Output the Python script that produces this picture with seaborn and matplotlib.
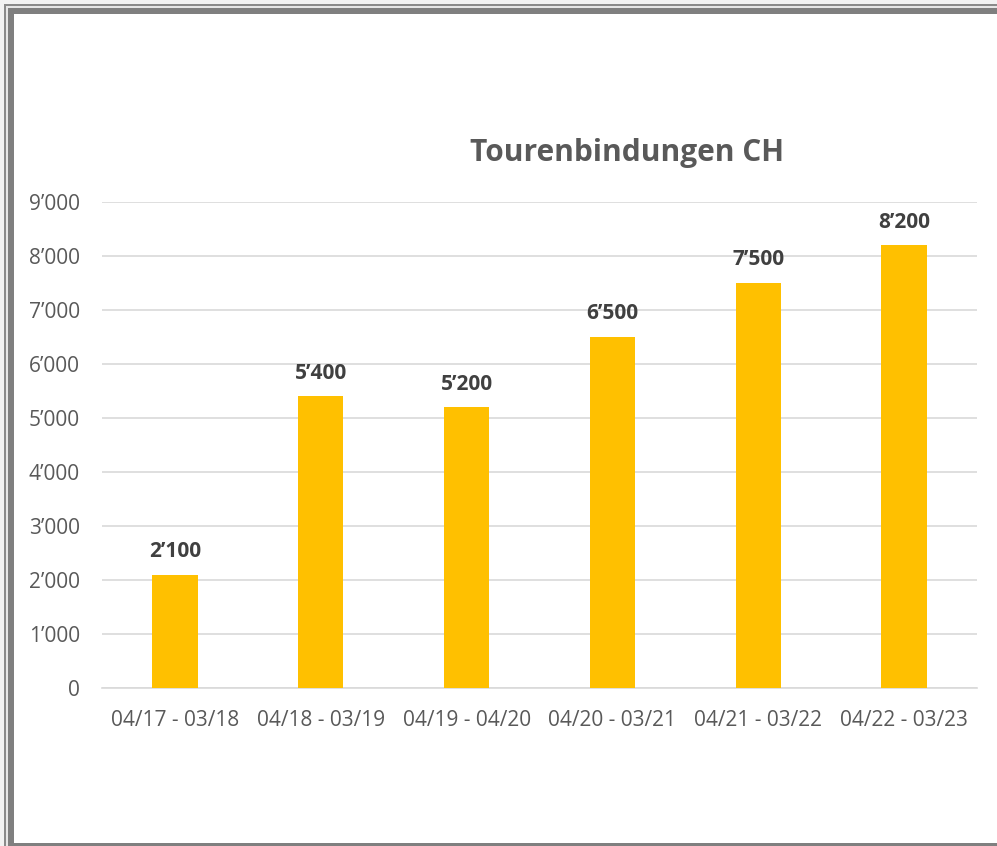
import matplotlib
matplotlib.use("Agg")
import matplotlib.pyplot as plt
import seaborn as sns
import pandas as pd
from matplotlib.patches import Rectangle

periods = ["04/17 - 03/18", "04/18 - 03/19", "04/19 - 04/20", "04/20 - 03/21", "04/21 - 03/22", "04/22 - 03/23"]
values = [2100, 5400, 5200, 6500, 7500, 8200]
yticks = [0, 1000, 2000, 3000, 4000, 5000, 6000, 7000, 8000, 9000]
title = "Tourenbindungen CH"

def fmt(v):
    return f"{v:,}".replace(",", "\u2019")

sns.set_theme(style="white")
plt.rcParams['font.family'] = ['Open Sans', 'DejaVu Sans']

W, H = 997, 846
fig = plt.figure(figsize=(W / 100, H / 100), dpi=100)
fig.patch.set_facecolor("#f2f2f2")

def px_rect(x0, y0, x1, y1, color):
    fig.patches.append(Rectangle((x0 / W, 1 - y1 / H), (x1 - x0) / W, (y1 - y0) / H,
                                 transform=fig.transFigure, facecolor=color, edgecolor="none", zorder=-10))

# frame
px_rect(4, 4, W, H, "#8a8a8a")
px_rect(6, 6, W, H, "#e6e6e6")
px_rect(8, 8, W, H, "#7f7f7f")
px_rect(14, 14, W, 843, "white")

left, right, top, bottom = 102, 977, 202, 688
ax = fig.add_axes([left / W, 1 - bottom / H, (right - left) / W, (bottom - top) / H])
ax.set_facecolor("none")

df = pd.DataFrame({"period": periods, "value": values})
sns.barplot(data=df, x="period", y="value", color="#FFC000", saturation=1, width=0.31,
            linewidth=0, edgecolor="none", ax=ax, zorder=3)

ax.set_xlim(-0.5, len(periods) - 0.5)
ax.set_ylim(0, 9000)
ax.set_yticks(yticks)
ax.set_yticklabels([fmt(v) for v in yticks])
ax.yaxis.grid(True, color="#d9d9d9", linewidth=1.2)
ax.set_axisbelow(True)
for s in ["left", "right", "top"]:
    ax.spines[s].set_visible(False)
ax.spines["bottom"].set_color("#d9d9d9")
ax.spines["bottom"].set_linewidth(1.2)
ax.tick_params(axis="both", length=0, labelsize=15, labelcolor="#595959")
ax.tick_params(axis="x", pad=16)
ax.tick_params(axis="y", pad=16)
ax.set_xlabel("")
ax.set_ylabel("")

for i, v in enumerate(values):
    ax.annotate(fmt(v), (i, v), xytext=(0, 9), textcoords="offset points",
                ha="center", va="bottom", fontsize=15, fontweight="bold", color="#404040")

fig.text(627 / W, 1 - 153 / H, title, ha="center", va="center", fontsize=21.5,
         fontweight="bold", color="#595959")

fig.savefig("out.png", dpi=100)
